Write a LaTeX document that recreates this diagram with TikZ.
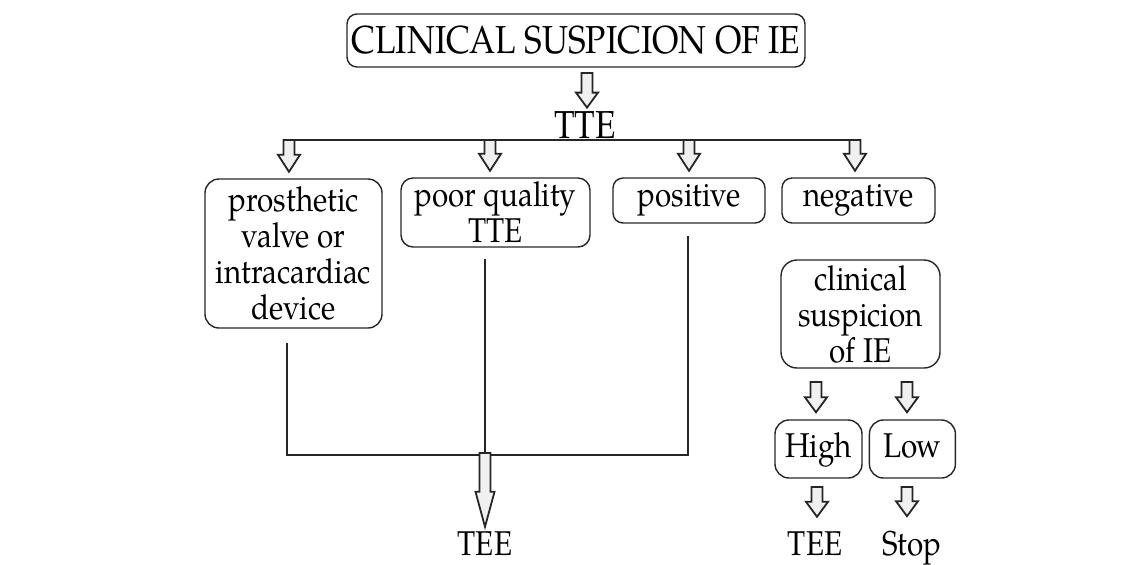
\documentclass[tikz,border=0pt]{standalone}
\usepackage{fontspec}
\setmainfont{texgyrepagella-regular.otf}[FakeStretch=0.86]
\usetikzlibrary{calc,positioning}
\tikzstyle{rbox} = [rectangle,draw=black!85,line width=0.7pt,rounded corners=6pt,align=center,inner sep=0pt,font=\fontsize{17.2}{18}\selectfont]

\begin{document}
\begin{tikzpicture}
		[
		x=0.5pt,y=-0.5pt,
		link/.style={draw=black!85,line width=0.8pt},
		shaftw/.store in=\shaftw, headw/.store in=\headw,
		headlen/.store in=\headlen, tipgap/.store in=\tipgap,
		shaftw=2.75pt, headw=5.5pt, headlen=8pt, tipgap=3.5pt,
		hollow/.style={
		draw=black!85,line width=0.9pt,fill=gray!12,
		to path={let \p1=(\tikztostart), \p2=(\tikztotarget) in
		(\x1-\shaftw,\y1) -- (\x1+\shaftw,\y1) -- (\x1+\shaftw,\y2+\tipgap+\headlen)
		-- (\x1+\headw,\y2+\tipgap+\headlen) -- (\x1,\y2+\tipgap)
		-- (\x1-\headw,\y2+\tipgap+\headlen) -- (\x1-\shaftw,\y2+\tipgap+\headlen) -- cycle}},
		big/.style={font=\fontsize{19.5}{21}\selectfont},
		plain/.style={inner sep=1pt,font=\fontsize{17.2}{18}\selectfont}
		]
		\useasboundingbox (0,0) rectangle (1145,564);

		% boxes
		\node[rbox,big,rounded corners=5pt,minimum width=229pt,minimum height=26.5pt](clin) at (576,40.5) {CLINICAL SUSPICION OF IE};
		\node[plain,big,anchor=base](tte) at (585,138) {TTE};
		\node[rbox,rounded corners=7pt,minimum width=88.5pt,minimum height=74.5pt](prost) at (293.5,253.5) {prosthetic\\valve or\\intracardiac\\device};
		\node[rbox,minimum width=94.5pt,minimum height=34.5pt](poor) at (495.5,212.5) {poor quality\\TTE};
		\node[rbox,rounded corners=5pt,minimum width=76pt,minimum height=22.5pt](pos) at (689,200.5) {positive};
		\node[rbox,rounded corners=5pt,minimum width=76.5pt,minimum height=22.5pt](neg) at (858.5,200.5) {negative};
		\node[rbox,rounded corners=8pt,minimum width=79.5pt,minimum height=54pt](susp) at (860.5,314) {clinical\\suspicion\\of IE};
		\node[rbox,rounded corners=7pt,minimum width=43.5pt,minimum height=29pt,text height=12pt,text depth=3.5pt](high) at (818.5,449) {High};
		\node[rbox,rounded corners=7pt,minimum width=43pt,minimum height=29pt,text height=12pt,text depth=3.5pt,right=3pt of high](low) {Low};
		\node[plain,anchor=base](tee) at (485,555) {TEE};
		\node[plain,anchor=base](teeb) at (815,555) {TEE};
		\node[plain,anchor=base](stop) at (912,555) {Stop};

		% arrow tops
		\coordinate (a0) at (587,73);
		\coordinate (b1) at (289,140);
		\coordinate (b2) at (490,140);
		\coordinate (b3) at (689,140);
		\coordinate (b4) at (855,140);
		\coordinate (c1) at (816,382);
		\coordinate (c2) at (907,382);
		\coordinate (d1) at (817,487);
		\coordinate (d2) at (907,487);
		\coordinate (e0) at (485,453);
		\coordinate (j3) at (688,455);

		\draw[link,line width=1pt] ([xshift=-\shaftw]b1) -- ([xshift=\shaftw]b4);
		\draw[link] ($(prost.south)+(-3.25pt,-7pt)$) |- (j3) -- ($(pos.south -| j3)+(0,-6pt)$);
		\draw[link] ($(poor.south -| e0)+(0,-5.5pt)$) -- (e0);

		\draw[hollow,tipgap=0.5pt,headlen=7.5pt] (a0) to (tte.north);
		\foreach \bx/\nd in {b1/prost,b2/poor,b3/pos,b4/neg}
		\draw[hollow,tipgap=3.25pt,headlen=8.5pt] (\bx) to (\nd.north);
		\draw[hollow,headlen=7.5pt] (c1) to (high.north);
		\draw[hollow,headlen=7.5pt] (c2) to (low.north);
		\draw[hollow,headlen=7.5pt,tipgap=6pt] (d1) to (teeb.north);
		\draw[hollow,headlen=7.5pt,tipgap=6pt] (d2) to (stop.north);
		\draw[hollow,headlen=17.5pt,headw=4.75pt,tipgap=1pt] (e0) to (tee.north);
		\end{tikzpicture}
\end{document}
